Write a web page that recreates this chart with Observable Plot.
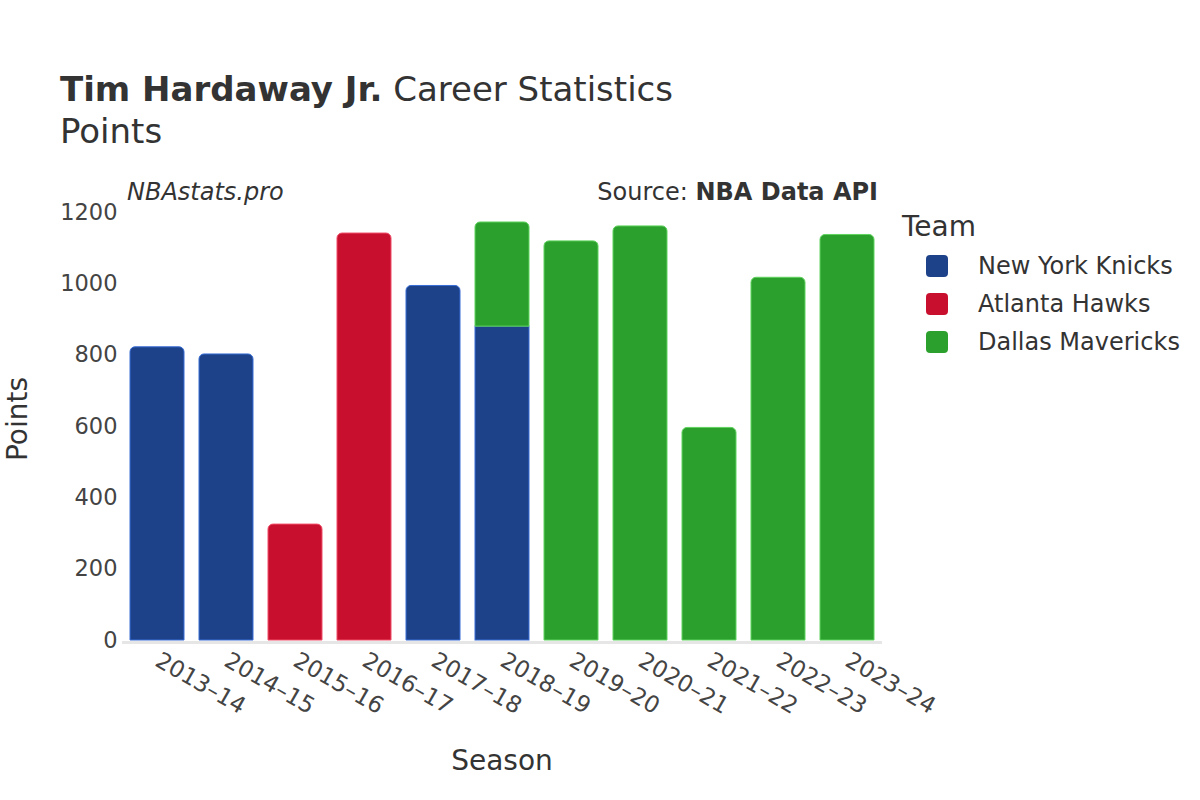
<!DOCTYPE html>
<html>
<head>
<meta charset="utf-8">
<script src="https://cdn.jsdelivr.net/npm/d3@7"></script>
<script src="https://cdn.jsdelivr.net/npm/@observablehq/plot@0.6"></script>
<style>
  html, body { margin: 0; padding: 0; background: #fff; }
  #wrap { position: relative; width: 1200px; height: 800px; font-family: "DejaVu Sans", sans-serif; }
  #wrap > svg { position: absolute; left: 0; top: 0; }
</style>
</head>
<body>
<div id="wrap"></div>
<script>
// ---- data ----
const seasons = ["2013–14","2014–15","2015–16","2016–17","2017–18","2018–19","2019–20","2020–21","2021–22","2022–23","2023–24"];
const teams = ["New York Knicks","Atlanta Hawks","Dallas Mavericks"];
const teamColors = ["#1d428a","#c8102e","#2ca02c"];
const rowSeason = ["2013–14","2014–15","2015–16","2016–17","2017–18","2018–19","2018–19","2019–20","2020–21","2021–22","2022–23","2023–24"];
const rowTeam   = ["New York Knicks","New York Knicks","Atlanta Hawks","Atlanta Hawks","New York Knicks","New York Knicks","Dallas Mavericks","Dallas Mavericks","Dallas Mavericks","Dallas Mavericks","Dallas Mavericks","Dallas Mavericks"];
const rowPoints = [822, 802, 325, 1141, 994, 880, 292, 1119, 1161, 596, 1017, 1137];
const yTicks = [0, 200, 400, 600, 800, 1000, 1200];

// ---- build stacked table ----
const cum = {};
const rows = rowSeason.map((s, i) => {
  const base = cum[s] || 0;
  cum[s] = base + rowPoints[i];
  return {season: s, team: rowTeam[i], points: rowPoints[i], y1: base, y2: base + rowPoints[i]};
});
rows.forEach(r => { r.top = r.y2 === cum[r.season]; });
const lighter = c => { const h = d3.hsl(c); h.l = Math.min(1, h.l + 0.2); return h.formatHex(); };
const strokeMap = Object.fromEntries(teams.map((t, i) => [t, lighter(teamColors[i])]));

const color = {domain: teams, range: teamColors};

const chart = Plot.plot({
  width: 1200,
  height: 800,
  marginLeft: 122,
  marginRight: 318,
  marginTop: 212,
  marginBottom: 160,
  style: {fontFamily: "DejaVu Sans, sans-serif", fontSize: "22px", color: "#444", background: "transparent"},
  x: {domain: seasons, paddingInner: 0.22, paddingOuter: 0.11, label: null, tickRotate: 30, tickSize: 0, tickPadding: 18},
  y: {domain: [0, 1200], ticks: yTicks, tickFormat: d3.format("d"), label: null, tickSize: 0, tickPadding: 5},
  color,
  marks: [
    Plot.ruleY(yTicks.filter(d => d > 0), {stroke: "#aaa", strokeWidth: 1, x1: 122, x2: 880}),
    Plot.ruleY([0], {stroke: "#e6e6e6", strokeWidth: 3, dy: 2}),
    Plot.barY(rows.filter(r => !r.top), {x: "season", y1: "y1", y2: "y2", fill: "team", stroke: d => strokeMap[d.team], strokeWidth: 1}),
    Plot.barY(rows.filter(r => r.top), {x: "season", y1: "y1", y2: "y2", fill: "team", stroke: d => strokeMap[d.team], strokeWidth: 1, ry1: 5})
  ]
});
const wrap = document.getElementById("wrap");
wrap.appendChild(chart);
d3.select(chart).selectAll("[aria-label='x-axis tick label'] text").style("font-size", "23px");
d3.select(chart).selectAll("[aria-label='y-axis tick label'] text").style("font-size", "22.5px");

// ---- overlay texts and legend ----
const ov = d3.select(wrap).append("svg").attr("width", 1200).attr("height", 800)
  .style("font-family", "DejaVu Sans, sans-serif").style("pointer-events", "none");
const ink = "#333";
const t = ov.append("text").attr("x", 60).attr("y", 101).attr("font-size", 34).attr("fill", ink);
t.append("tspan").attr("font-weight", "bold").text("Tim Hardaway Jr.");
t.append("tspan").text(" Career Statistics");
ov.append("text").attr("x", 60).attr("y", 143).attr("font-size", 34).attr("fill", ink).text("Points");

ov.append("text").attr("x", 127).attr("y", 200).attr("font-size", 24).attr("font-style", "italic").attr("fill", ink).text("NBAstats.pro");
const src = ov.append("text").attr("x", 878).attr("y", 200).attr("font-size", 24).attr("text-anchor", "end").attr("fill", ink);
src.append("tspan").text("Source: ");
src.append("tspan").attr("font-weight", "bold").text("NBA Data API");

ov.append("text").attr("transform", "translate(27,419) rotate(-90)").attr("text-anchor", "middle")
  .attr("font-size", 28).attr("fill", ink).text("Points");
ov.append("text").attr("x", 502).attr("y", 770).attr("text-anchor", "middle")
  .attr("font-size", 28).attr("fill", ink).text("Season");

ov.append("text").attr("x", 902).attr("y", 236).attr("font-size", 28).attr("fill", ink).text("Team");
teams.forEach((tm, i) => {
  const cy = 266 + i * 38;
  ov.append("rect").attr("x", 926).attr("y", cy - 11).attr("width", 22).attr("height", 22)
    .attr("rx", 4).attr("fill", teamColors[i]);
  ov.append("text").attr("x", 978).attr("y", cy + 8).attr("font-size", 24).attr("fill", ink).text(tm);
});
</script>
</body>
</html>
